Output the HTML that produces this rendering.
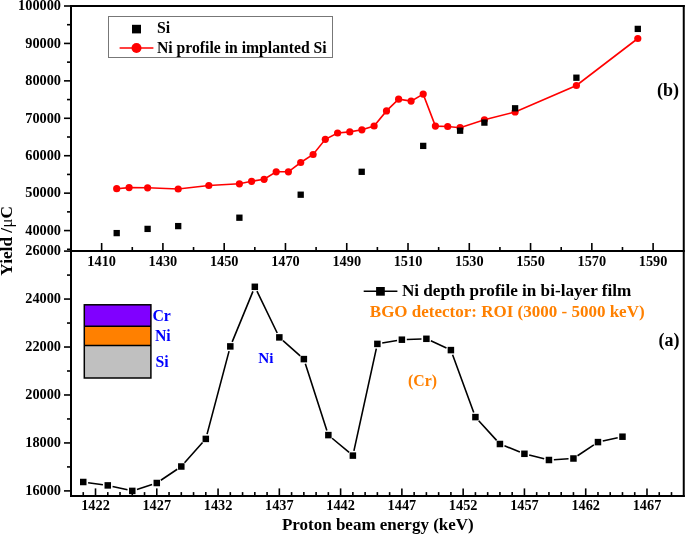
<!DOCTYPE html><html><head><meta charset="utf-8"><style>html,body{margin:0;padding:0;background:#fff;}svg{display:block;will-change:transform;}text{font-family:"Liberation Serif",serif;font-weight:bold;}</style></head><body>
<svg width="685" height="534" viewBox="0 0 685 534">
<rect x="0" y="0" width="685" height="534" fill="#fff"/>
<g stroke="#000" stroke-width="2" fill="none" stroke-linecap="square">
<line x1="71" y1="6" x2="71" y2="495.9"/>
<line x1="71" y1="6" x2="683.75" y2="6"/>
<line x1="71" y1="251.0" x2="683.75" y2="251.0"/>
<line x1="71" y1="495.9" x2="683.75" y2="495.9"/>
<line x1="683.75" y1="6" x2="683.75" y2="495.9"/>
</g>
<g stroke="#000" stroke-width="1.6"><line x1="67" y1="249.29" x2="71" y2="249.29"/><line x1="64" y1="230.58" x2="71" y2="230.58"/><line x1="67" y1="211.87" x2="71" y2="211.87"/><line x1="64" y1="193.15" x2="71" y2="193.15"/><line x1="67" y1="174.44" x2="71" y2="174.44"/><line x1="64" y1="155.72" x2="71" y2="155.72"/><line x1="67" y1="137.00" x2="71" y2="137.00"/><line x1="64" y1="118.29" x2="71" y2="118.29"/><line x1="67" y1="99.58" x2="71" y2="99.58"/><line x1="64" y1="80.86" x2="71" y2="80.86"/><line x1="67" y1="62.15" x2="71" y2="62.15"/><line x1="64" y1="43.43" x2="71" y2="43.43"/><line x1="67" y1="24.71" x2="71" y2="24.71"/><line x1="64" y1="6.00" x2="71" y2="6.00"/><line x1="64" y1="490.90" x2="71" y2="490.90"/><line x1="67" y1="466.92" x2="71" y2="466.92"/><line x1="64" y1="442.94" x2="71" y2="442.94"/><line x1="67" y1="418.96" x2="71" y2="418.96"/><line x1="64" y1="394.98" x2="71" y2="394.98"/><line x1="67" y1="371.00" x2="71" y2="371.00"/><line x1="64" y1="347.02" x2="71" y2="347.02"/><line x1="67" y1="323.04" x2="71" y2="323.04"/><line x1="64" y1="299.06" x2="71" y2="299.06"/><line x1="67" y1="275.08" x2="71" y2="275.08"/><line x1="64" y1="251.10" x2="71" y2="251.10"/><line x1="101.64" y1="243.0" x2="101.64" y2="251.0"/><line x1="132.28" y1="247.0" x2="132.28" y2="251.0"/><line x1="162.91" y1="243.0" x2="162.91" y2="251.0"/><line x1="193.55" y1="247.0" x2="193.55" y2="251.0"/><line x1="224.19" y1="243.0" x2="224.19" y2="251.0"/><line x1="254.82" y1="247.0" x2="254.82" y2="251.0"/><line x1="285.46" y1="243.0" x2="285.46" y2="251.0"/><line x1="316.10" y1="247.0" x2="316.10" y2="251.0"/><line x1="346.74" y1="243.0" x2="346.74" y2="251.0"/><line x1="377.38" y1="247.0" x2="377.38" y2="251.0"/><line x1="408.01" y1="243.0" x2="408.01" y2="251.0"/><line x1="438.65" y1="247.0" x2="438.65" y2="251.0"/><line x1="469.29" y1="243.0" x2="469.29" y2="251.0"/><line x1="499.93" y1="247.0" x2="499.93" y2="251.0"/><line x1="530.56" y1="243.0" x2="530.56" y2="251.0"/><line x1="561.20" y1="247.0" x2="561.20" y2="251.0"/><line x1="591.84" y1="243.0" x2="591.84" y2="251.0"/><line x1="622.48" y1="247.0" x2="622.48" y2="251.0"/><line x1="653.11" y1="243.0" x2="653.11" y2="251.0"/><line x1="83.25" y1="492.09999999999997" x2="83.25" y2="495.9"/><line x1="95.51" y1="488.4" x2="95.51" y2="495.9"/><line x1="107.77" y1="492.09999999999997" x2="107.77" y2="495.9"/><line x1="120.02" y1="492.09999999999997" x2="120.02" y2="495.9"/><line x1="132.28" y1="492.09999999999997" x2="132.28" y2="495.9"/><line x1="144.53" y1="492.09999999999997" x2="144.53" y2="495.9"/><line x1="156.78" y1="488.4" x2="156.78" y2="495.9"/><line x1="169.04" y1="492.09999999999997" x2="169.04" y2="495.9"/><line x1="181.30" y1="492.09999999999997" x2="181.30" y2="495.9"/><line x1="193.55" y1="492.09999999999997" x2="193.55" y2="495.9"/><line x1="205.81" y1="492.09999999999997" x2="205.81" y2="495.9"/><line x1="218.06" y1="488.4" x2="218.06" y2="495.9"/><line x1="230.31" y1="492.09999999999997" x2="230.31" y2="495.9"/><line x1="242.57" y1="492.09999999999997" x2="242.57" y2="495.9"/><line x1="254.82" y1="492.09999999999997" x2="254.82" y2="495.9"/><line x1="267.08" y1="492.09999999999997" x2="267.08" y2="495.9"/><line x1="279.34" y1="488.4" x2="279.34" y2="495.9"/><line x1="291.59" y1="492.09999999999997" x2="291.59" y2="495.9"/><line x1="303.85" y1="492.09999999999997" x2="303.85" y2="495.9"/><line x1="316.10" y1="492.09999999999997" x2="316.10" y2="495.9"/><line x1="328.36" y1="492.09999999999997" x2="328.36" y2="495.9"/><line x1="340.61" y1="488.4" x2="340.61" y2="495.9"/><line x1="352.87" y1="492.09999999999997" x2="352.87" y2="495.9"/><line x1="365.12" y1="492.09999999999997" x2="365.12" y2="495.9"/><line x1="377.38" y1="492.09999999999997" x2="377.38" y2="495.9"/><line x1="389.63" y1="492.09999999999997" x2="389.63" y2="495.9"/><line x1="401.88" y1="488.4" x2="401.88" y2="495.9"/><line x1="414.14" y1="492.09999999999997" x2="414.14" y2="495.9"/><line x1="426.39" y1="492.09999999999997" x2="426.39" y2="495.9"/><line x1="438.65" y1="492.09999999999997" x2="438.65" y2="495.9"/><line x1="450.90" y1="492.09999999999997" x2="450.90" y2="495.9"/><line x1="463.16" y1="488.4" x2="463.16" y2="495.9"/><line x1="475.42" y1="492.09999999999997" x2="475.42" y2="495.9"/><line x1="487.67" y1="492.09999999999997" x2="487.67" y2="495.9"/><line x1="499.93" y1="492.09999999999997" x2="499.93" y2="495.9"/><line x1="512.18" y1="492.09999999999997" x2="512.18" y2="495.9"/><line x1="524.43" y1="488.4" x2="524.43" y2="495.9"/><line x1="536.69" y1="492.09999999999997" x2="536.69" y2="495.9"/><line x1="548.94" y1="492.09999999999997" x2="548.94" y2="495.9"/><line x1="561.20" y1="492.09999999999997" x2="561.20" y2="495.9"/><line x1="573.45" y1="492.09999999999997" x2="573.45" y2="495.9"/><line x1="585.71" y1="488.4" x2="585.71" y2="495.9"/><line x1="597.97" y1="492.09999999999997" x2="597.97" y2="495.9"/><line x1="610.22" y1="492.09999999999997" x2="610.22" y2="495.9"/><line x1="622.48" y1="492.09999999999997" x2="622.48" y2="495.9"/><line x1="634.73" y1="492.09999999999997" x2="634.73" y2="495.9"/><line x1="646.99" y1="488.4" x2="646.99" y2="495.9"/><line x1="659.24" y1="492.09999999999997" x2="659.24" y2="495.9"/><line x1="671.50" y1="492.09999999999997" x2="671.50" y2="495.9"/></g>
<g font-size="14.3" fill="#000"><text x="61" y="234.88" text-anchor="end">40000</text><text x="61" y="197.45" text-anchor="end">50000</text><text x="61" y="160.02" text-anchor="end">60000</text><text x="61" y="122.59" text-anchor="end">70000</text><text x="61" y="85.16" text-anchor="end">80000</text><text x="61" y="47.73" text-anchor="end">90000</text><text x="61" y="10.30" text-anchor="end">100000</text><text x="61" y="495.20" text-anchor="end">16000</text><text x="61" y="447.24" text-anchor="end">18000</text><text x="61" y="399.28" text-anchor="end">20000</text><text x="61" y="351.32" text-anchor="end">22000</text><text x="61" y="303.36" text-anchor="end">24000</text><text x="61" y="255.40" text-anchor="end">26000</text><text x="101.64" y="265.7" text-anchor="middle">1410</text><text x="162.91" y="265.7" text-anchor="middle">1430</text><text x="224.19" y="265.7" text-anchor="middle">1450</text><text x="285.46" y="265.7" text-anchor="middle">1470</text><text x="346.74" y="265.7" text-anchor="middle">1490</text><text x="408.01" y="265.7" text-anchor="middle">1510</text><text x="469.29" y="265.7" text-anchor="middle">1530</text><text x="530.56" y="265.7" text-anchor="middle">1550</text><text x="591.84" y="265.7" text-anchor="middle">1570</text><text x="653.11" y="265.7" text-anchor="middle">1590</text><text x="95.51" y="510.2" text-anchor="middle">1422</text><text x="156.78" y="510.2" text-anchor="middle">1427</text><text x="218.06" y="510.2" text-anchor="middle">1432</text><text x="279.34" y="510.2" text-anchor="middle">1437</text><text x="340.61" y="510.2" text-anchor="middle">1442</text><text x="401.88" y="510.2" text-anchor="middle">1447</text><text x="463.16" y="510.2" text-anchor="middle">1452</text><text x="524.43" y="510.2" text-anchor="middle">1457</text><text x="585.71" y="510.2" text-anchor="middle">1462</text><text x="646.99" y="510.2" text-anchor="middle">1467</text></g>
<text x="281.9" y="529.6" font-size="17" fill="#000">Proton beam energy (keV)</text>
<text transform="translate(12.3,275.7) rotate(-90)" font-size="17.3" fill="#000">Yield /<tspan font-weight="normal">&#956;</tspan>C</text>
<polyline points="116.7,188.7 129.1,187.6 147.6,187.8 178.2,189 208.8,185.5 239.4,183.8 251.6,181.3 264.1,179.3 276.2,171.8 288.4,171.8 300.7,162.5 313.1,154.5 325.3,139.3 337.6,133 349.8,131.9 361.9,129.8 374.1,126 386.5,110.9 398.6,99.2 411.1,101.1 423.2,94.1 435.4,126.1 447.7,126.5 460.1,127.7 484.4,119.8 515.1,111.9 576.4,85.5 637.8,38.5" fill="none" stroke="#f00" stroke-width="1.6"/>
<circle cx="116.7" cy="188.7" r="3.6" fill="#f00"/>
<circle cx="129.1" cy="187.6" r="3.6" fill="#f00"/>
<circle cx="147.6" cy="187.8" r="3.6" fill="#f00"/>
<circle cx="178.2" cy="189" r="3.6" fill="#f00"/>
<circle cx="208.8" cy="185.5" r="3.6" fill="#f00"/>
<circle cx="239.4" cy="183.8" r="3.6" fill="#f00"/>
<circle cx="251.6" cy="181.3" r="3.6" fill="#f00"/>
<circle cx="264.1" cy="179.3" r="3.6" fill="#f00"/>
<circle cx="276.2" cy="171.8" r="3.6" fill="#f00"/>
<circle cx="288.4" cy="171.8" r="3.6" fill="#f00"/>
<circle cx="300.7" cy="162.5" r="3.6" fill="#f00"/>
<circle cx="313.1" cy="154.5" r="3.6" fill="#f00"/>
<circle cx="325.3" cy="139.3" r="3.6" fill="#f00"/>
<circle cx="337.6" cy="133" r="3.6" fill="#f00"/>
<circle cx="349.8" cy="131.9" r="3.6" fill="#f00"/>
<circle cx="361.9" cy="129.8" r="3.6" fill="#f00"/>
<circle cx="374.1" cy="126" r="3.6" fill="#f00"/>
<circle cx="386.5" cy="110.9" r="3.6" fill="#f00"/>
<circle cx="398.6" cy="99.2" r="3.6" fill="#f00"/>
<circle cx="411.1" cy="101.1" r="3.6" fill="#f00"/>
<circle cx="423.2" cy="94.1" r="3.6" fill="#f00"/>
<circle cx="435.4" cy="126.1" r="3.6" fill="#f00"/>
<circle cx="447.7" cy="126.5" r="3.6" fill="#f00"/>
<circle cx="460.1" cy="127.7" r="3.6" fill="#f00"/>
<circle cx="484.4" cy="119.8" r="3.6" fill="#f00"/>
<circle cx="515.1" cy="111.9" r="3.6" fill="#f00"/>
<circle cx="576.4" cy="85.5" r="3.6" fill="#f00"/>
<circle cx="637.8" cy="38.5" r="3.6" fill="#f00"/>
<rect x="113.55" y="229.95" width="6.3" height="6.3" fill="#000"/>
<rect x="144.45" y="225.75" width="6.3" height="6.3" fill="#000"/>
<rect x="175.04999999999998" y="222.95" width="6.3" height="6.3" fill="#000"/>
<rect x="236.25" y="214.54999999999998" width="6.3" height="6.3" fill="#000"/>
<rect x="297.55" y="191.54999999999998" width="6.3" height="6.3" fill="#000"/>
<rect x="358.55" y="168.65" width="6.3" height="6.3" fill="#000"/>
<rect x="420.05" y="142.75" width="6.3" height="6.3" fill="#000"/>
<rect x="456.95000000000005" y="127.54999999999998" width="6.3" height="6.3" fill="#000"/>
<rect x="481.25" y="119.44999999999999" width="6.3" height="6.3" fill="#000"/>
<rect x="511.95000000000005" y="105.14999999999999" width="6.3" height="6.3" fill="#000"/>
<rect x="573.25" y="74.55" width="6.3" height="6.3" fill="#000"/>
<rect x="634.65" y="25.75" width="6.3" height="6.3" fill="#000"/>
<path d="M88.11 482.67L102.91 484.73M112.55 486.47L127.49 489.83M136.94 489.40L152.12 484.50M160.85 480.26L177.23 469.24M184.55 462.84L202.55 442.56M207.06 434.16L229.06 351.14M232.18 341.87L252.96 291.33M256.96 291.21L277.20 332.99M283.00 340.65L300.18 355.85M305.35 363.76L326.85 430.44M332.11 438.24L349.11 452.46M353.92 450.81L376.32 348.69M382.20 343.07L397.06 340.53M406.78 339.52L421.50 338.98M430.84 340.85L446.46 348.05M452.59 354.70L473.73 412.50M478.72 420.72L496.62 440.38M504.47 445.82L519.89 451.98M529.19 455.00L544.19 458.80M553.84 459.70L568.56 458.80M577.53 455.78L593.89 444.82M602.75 441.05L617.69 437.75" fill="none" stroke="#000" stroke-width="1.6"/>
<rect x="80.00" y="478.75" width="6.5" height="6.5" fill="#000"/>
<rect x="104.52" y="482.15" width="6.5" height="6.5" fill="#000"/>
<rect x="129.03" y="487.65" width="6.5" height="6.5" fill="#000"/>
<rect x="153.53" y="479.75" width="6.5" height="6.5" fill="#000"/>
<rect x="178.05" y="463.25" width="6.5" height="6.5" fill="#000"/>
<rect x="202.56" y="435.65" width="6.5" height="6.5" fill="#000"/>
<rect x="227.06" y="343.15" width="6.5" height="6.5" fill="#000"/>
<rect x="251.57" y="283.55" width="6.5" height="6.5" fill="#000"/>
<rect x="276.09" y="334.15" width="6.5" height="6.5" fill="#000"/>
<rect x="300.60" y="355.85" width="6.5" height="6.5" fill="#000"/>
<rect x="325.11" y="431.85" width="6.5" height="6.5" fill="#000"/>
<rect x="349.62" y="452.35" width="6.5" height="6.5" fill="#000"/>
<rect x="374.12" y="340.65" width="6.5" height="6.5" fill="#000"/>
<rect x="398.63" y="336.45" width="6.5" height="6.5" fill="#000"/>
<rect x="423.14" y="335.55" width="6.5" height="6.5" fill="#000"/>
<rect x="447.65" y="346.85" width="6.5" height="6.5" fill="#000"/>
<rect x="472.17" y="413.85" width="6.5" height="6.5" fill="#000"/>
<rect x="496.68" y="440.75" width="6.5" height="6.5" fill="#000"/>
<rect x="521.18" y="450.55" width="6.5" height="6.5" fill="#000"/>
<rect x="545.69" y="456.75" width="6.5" height="6.5" fill="#000"/>
<rect x="570.20" y="455.25" width="6.5" height="6.5" fill="#000"/>
<rect x="594.72" y="438.85" width="6.5" height="6.5" fill="#000"/>
<rect x="619.23" y="433.45" width="6.5" height="6.5" fill="#000"/>
<rect x="108.5" y="16.5" width="224" height="41" fill="none" stroke="#777" stroke-width="1"/>
<rect x="132" y="24.8" width="9" height="8.6" fill="#000"/>
<line x1="119.6" y1="48" x2="153.4" y2="48" stroke="#f00" stroke-width="1.6"/>
<circle cx="136.5" cy="48" r="5" fill="#f00"/>
<text x="157" y="33.3" font-size="15.8" fill="#000">Si</text>
<text x="157" y="52.6" font-size="15.7" fill="#000">Ni profile in implanted Si</text>
<text x="656.9" y="95.9" font-size="18" fill="#000">(b)</text>
<line x1="363.7" y1="291.3" x2="397.4" y2="291.3" stroke="#000" stroke-width="1.6"/>
<rect x="376.1" y="287" width="8.7" height="8.7" fill="#000"/>
<text x="401.9" y="296" font-size="17.15" fill="#000">Ni depth profile in bi-layer film</text>
<text x="369.8" y="316.8" font-size="17" fill="#ff8000">BGO detector: ROI (3000 - 5000 keV)</text>
<text x="658.5" y="346.1" font-size="18" fill="#000">(a)</text>
<rect x="84.3" y="304.8" width="66.6" height="21.4" fill="#8000ff"/>
<rect x="84.3" y="326.2" width="66.6" height="19.4" fill="#ff8000"/>
<rect x="84.3" y="345.6" width="66.6" height="32.4" fill="#c0c0c0"/>
<g stroke="#000" stroke-width="1.5" fill="none"><rect x="84.3" y="304.8" width="66.6" height="73.2"/><line x1="84.3" y1="326.2" x2="150.9" y2="326.2"/><line x1="84.3" y1="345.6" x2="150.9" y2="345.6"/></g>
<g font-size="15.8" fill="#0000ff"><text x="152.4" y="321.1">Cr</text><text x="154.9" y="341.4">Ni</text><text x="155.4" y="367.4">Si</text></g>
<text x="258.2" y="362.7" font-size="15.2" fill="#0000ff">Ni</text>
<text x="408.1" y="385.9" font-size="15.8" fill="#ff8000">(Cr)</text>
</svg></body></html>
